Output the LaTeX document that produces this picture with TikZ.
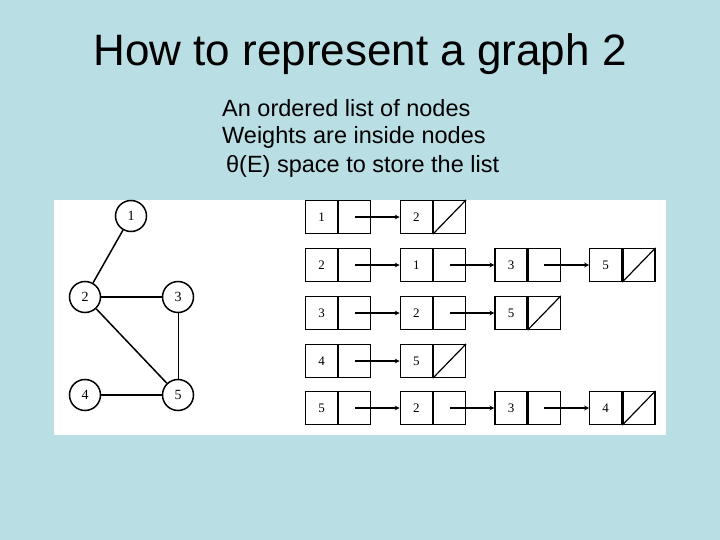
\documentclass[tikz,border=0pt]{standalone}
\usepackage{fontspec}
\setmainfont{Liberation Sans}
\newfontfamily\serifnum{Liberation Serif}
\begin{document}
\begin{tikzpicture}[x=1pt,y=-1pt,
  gnode/.style={circle,draw,line width=1.5pt,minimum size=31pt,inner sep=0pt,font=\serifnum\fontsize{14}{14}\selectfont},
  edge/.style={line width=1.5pt},
  cellbox/.style={draw,line width=1.2pt,minimum width=32pt,minimum height=33pt,inner sep=0pt,font=\serifnum\fontsize{13}{13}\selectfont},
  link/.style={-stealth,line width=1.2pt}]
\fill[fill={rgb,255:red,185;green,222;blue,228}] (0,0) rectangle (720,540);
\useasboundingbox (0,0) rectangle (720,540);
\fill[white] (54,200) rectangle (666,435);
\node (title) at (360,54) {\fontsize{44}{50}\selectfont How to represent a graph 2};
\node[anchor=west,inner sep=0pt] (t1) at (222,108) {\fontsize{23.5}{26}\selectfont An ordered list of nodes};
\node[anchor=west,inner sep=0pt] (t2) at (222,137) {\fontsize{23.5}{26}\selectfont Weights are inside nodes};
\node[anchor=west,inner sep=0pt] (t3) at (222,166) {\fontsize{23.5}{26}\selectfont \,θ(E) space to store the list};
% graph
\node[gnode] (g1) at (131,216) {1};
\node[gnode] (g2) at (85,297) {2};
\node[gnode] (g3) at (178,297) {3};
\node[gnode] (g4) at (85,395) {4};
\node[gnode] (g5) at (178,395) {5};
\draw[edge] (g1)--(g2); \draw[edge] (g2)--(g3); \draw[edge] (g2)--(g5);
\draw[line width=1pt] (g3)--(g5); \draw[edge] (g4)--(g5);
% lists
\foreach \r/\y/\labs in {1/217/{1,2}, 2/265/{2,1,3,5}, 3/313/{3,2,5}, 4/361/{4,5}, 5/408/{5,2,3,4}}{
  \foreach \v [count=\c] in \labs {
    \pgfmathsetmacro{\xl}{305+(\c-1)*94.7}
    \node[cellbox,anchor=west] (a\r\c) at (\xl,\y) {\v};
    \node[cellbox,anchor=west] (b\r\c) at (a\r\c.east) {};
    \xdef\last{\c}
  }
  \draw[line width=1.2pt] (b\r\last.south west)--(b\r\last.north east);
  \foreach \c in {2,...,\last}{
    \pgfmathtruncatemacro{\p}{\c-1}
    \draw[link] (b\r\p.center)--(a\r\c.west);
  }
}
\end{tikzpicture}
\end{document}
